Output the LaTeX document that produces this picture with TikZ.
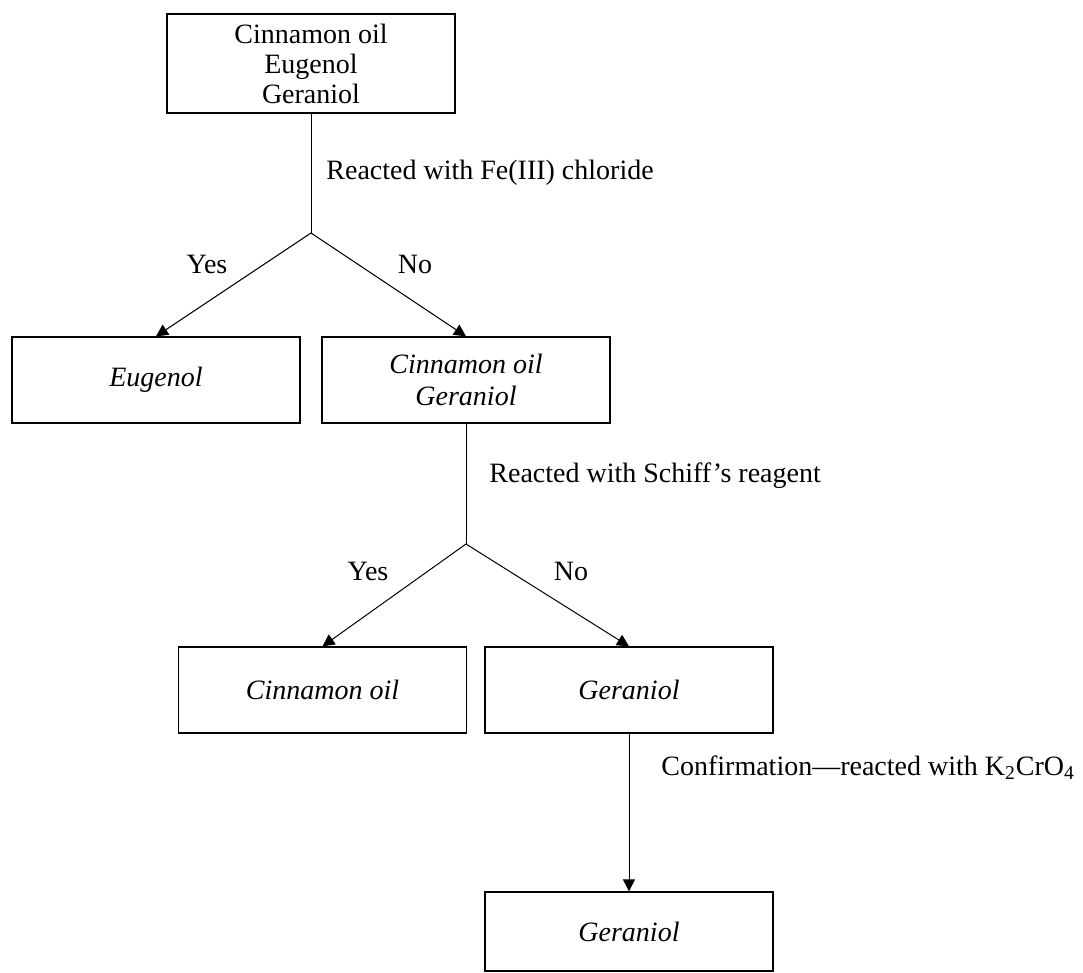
\documentclass[tikz,border=0pt]{standalone}
\usepackage{fontspec}
\setmainfont{Liberation Serif}
\usetikzlibrary{positioning, arrows.meta}

\begin{document}
\begin{tikzpicture}[
    x=0.5pt, y=-0.5pt,
    font=\fontsize{14}{15}\selectfont,
    mybox/.style={rectangle, draw, line width=0.65pt, align=center,
        minimum width=144pt, minimum height=43pt, inner sep=2pt},
    itbox/.style={mybox, font=\fontsize{14}{16}\selectfont\itshape},
    mylabel/.style={anchor=base west, inner sep=0pt},
    mychoice/.style={anchor=base, inner sep=0pt},
    myline/.style={line width=0.5pt},
    myarrow/.style={myline, -{Triangle[width=6pt,length=6pt]}}]

    \useasboundingbox (0,0) rectangle (1083,973);

    % first test
    \node[mybox, minimum height=49.5pt] (mixture) at (311,63.5) {Cinnamon oil\\Eugenol\\Geraniol};
    \coordinate (split1) at (311,233);
    \node[mylabel] (fetest) at (326,180) {Reacted with Fe(III) chloride};

    \node[itbox] (eugenol) at (156,380) {Eugenol};
    \node[itbox] (cinger) at (466,380) {Cinnamon oil\\Geraniol};

    \node[mychoice] (yes1) at (207,274) {Yes};
    \node[mychoice] (no1) at (415,274) {No};

    \draw[myline] (mixture) -- (split1);
    \draw[myarrow] (split1) -- (eugenol.north);
    \draw[myarrow] (split1) -- (cinger.north);

    % second test
    \coordinate (split2) at (466,544);
    \node[mylabel] (schifftest) at (489,482) {Reacted with Schiff's reagent};

    \node[itbox] (cinnamon) at (322.5,690) {Cinnamon oil};
    \node[itbox] (geraniol) at (629,690) {Geraniol};

    \node[mychoice] (yes2) at (368,581) {Yes};
    \node[mychoice] (no2) at (571,581) {No};

    \draw[myline] (cinger) -- (split2);
    \draw[myarrow] (split2) -- (cinnamon.north);
    \draw[myarrow] (split2) -- (geraniol.north);

    % confirmation
    \node[mylabel] (confirm) at (661,775) {Confirmation—reacted with K\textsubscript{2}CrO\textsubscript{4}};
    \node[itbox, minimum height=39.5pt] (result) at (629,931.5) {Geraniol};

    \draw[myarrow] (geraniol) -- (result);

\end{tikzpicture}
\end{document}
